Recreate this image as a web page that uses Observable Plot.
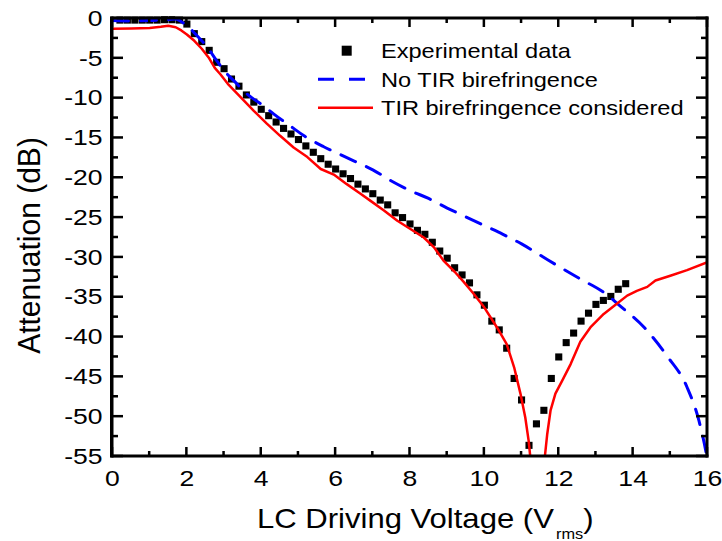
<!DOCTYPE html>
<html>
<head>
<meta charset="utf-8">
<script src="https://cdn.jsdelivr.net/npm/d3@7"></script>
<script src="https://cdn.jsdelivr.net/npm/@observablehq/plot@0.6"></script>
<style>
  html, body { margin: 0; padding: 0; background: #ffffff; }
  #chart svg { display: block; }
</style>
</head>
<body>
<div id="chart"></div>
<script>
// ---- Data ----
const expVoltage = [0.2,0.4,0.6,0.8,1.0,1.2,1.4,1.6,1.8,2.0,2.2,2.4,2.6,2.8,3.0,3.2,3.4,3.6,3.8,4.0,
  4.2,4.4,4.6,4.8,5.0,5.2,5.4,5.6,5.8,6.0,6.2,6.4,6.6,6.8,7.0,7.2,7.4,7.6,7.8,8.0,
  8.2,8.4,8.6,8.8,9.0,9.2,9.4,9.6,9.8,10.0,10.2,10.4,10.6,10.8,11.0,11.2,11.4,11.6,11.8,12.0,
  12.2,12.4,12.6,12.8,13.0,13.2,13.4,13.6,13.8];
const expAtten = [-0.2,-0.2,-0.2,-0.2,-0.2,-0.2,-0.15,-0.15,-0.2,-0.7,-1.9,-2.9,-4.0,-5.5,-6.3,-7.6,-8.5,-9.6,-10.5,-11.4,
  -12.2,-13.0,-13.8,-14.5,-15.2,-16.0,-16.8,-17.6,-18.3,-18.9,-19.5,-20.1,-20.8,-21.4,-22.0,-22.8,-23.4,-24.4,-25.0,-25.8,
  -26.6,-27.1,-28.1,-29.2,-30.1,-31.3,-32.2,-33.2,-34.7,-36.0,-38.0,-39.1,-41.4,-45.2,-47.9,-53.6,-50.9,-49.2,-45.2,-42.5,
  -40.7,-39.5,-38.0,-37.0,-35.9,-35.4,-34.9,-34.0,-33.3];

const noTirVoltage = [0,0.5,1.0,1.5,1.7,1.85,2.05,2.3,2.55,2.8,3.05,3.26,3.62,4.07,4.34,4.87,5.14,5.68,6.04,6.5,
  7.0,7.5,8.0,8.5,9.0,9.5,10.0,10.5,11.0,11.7,12.5,13.3,13.6,14.3,14.9,15.45,15.77,15.97,16.0];
const noTirAtten = [-0.25,-0.3,-0.25,-0.15,-0.05,-0.4,-1.1,-2.3,-3.6,-5.3,-6.8,-7.8,-9.5,-11.0,-12.0,-13.8,-14.7,-16.1,-16.9,-17.9,
  -19.0,-20.4,-21.6,-22.6,-23.8,-24.9,-26.0,-27.1,-28.3,-30.3,-32.5,-34.7,-35.9,-38.8,-42.3,-46.3,-50.5,-54.7,-55.5];

const tirVoltage = [0,0.5,1.0,1.3,1.5,1.7,1.85,2.0,2.2,2.4,2.6,2.75,2.9,3.1,3.45,3.8,4.15,4.5,4.87,5.24,
  5.6,5.95,6.3,6.67,6.94,7.3,7.66,8.0,8.37,8.64,8.9,9.2,9.45,9.7,10.0,10.34,10.6,10.8,10.97,11.1,
  11.19,11.24,11.43,11.62,11.69,11.78,11.91,12.09,12.32,12.58,12.85,13.21,13.57,13.84,14.1,14.38,14.6,15.0,15.45,16.0];
const tirAtten = [-1.3,-1.25,-1.2,-1.05,-0.92,-1.1,-1.5,-2.0,-2.8,-3.8,-5.0,-6.2,-7.0,-8.2,-9.9,-11.6,-13.2,-14.7,-16.2,-17.4,
  -18.9,-19.6,-20.8,-22.0,-22.9,-24.1,-25.4,-26.4,-27.5,-28.7,-30.4,-31.8,-33.1,-34.5,-36.3,-38.8,-40.9,-43.8,-47.1,-50.1,
  -53.0,-55.3,NaN,-55.3,-52.2,-49.2,-47.1,-45.5,-43.4,-40.6,-38.8,-37.1,-35.8,-34.8,-34.2,-33.7,-32.9,-32.3,-31.6,-30.6];

const xTicks = [0,2,4,6,8,10,12,14,16];
const xMinorTicks = [1,3,5,7,9,11,13,15];
const yTicks = [0,-5,-10,-15,-20,-25,-30,-35,-40,-45,-50,-55];
const yMinorTicks = [-2.5,-7.5,-12.5,-17.5,-22.5,-27.5,-32.5,-37.5,-42.5,-47.5,-52.5];

const legendLabels = ["Experimental data", "No TIR birefringence", "TIR birefringence considered"];
const xTitleParts = ["LC Driving Voltage (V", "rms", ")"];
const yTitle = "Attenuation (dB)";

// ---- Tables built from arrays ----
const expData = expVoltage.map((v, i) => ({v, a: expAtten[i]}));
const noTirData = noTirVoltage.map((v, i) => ({v, a: noTirAtten[i]}));
const tirData = tirVoltage.map((v, i) => ({v, a: tirAtten[i]}));

const FONT = "'Liberation Sans', Arial, Helvetica, sans-serif";
const fmt = d => String(d);

const chart = Plot.plot({
  width: 722, height: 541,
  marginLeft: 112, marginRight: 15, marginTop: 18, marginBottom: 85,
  x: {domain: [xTicks[0], xTicks[xTicks.length - 1]]},
  y: {domain: [yTicks[yTicks.length - 1], yTicks[0]]},
  style: {fontFamily: FONT, background: "#ffffff", color: "black"},
  marks: [
    Plot.dot(expData, {x: "v", y: "a", symbol: "square", r: 4, fill: "black"}),
    Plot.line(noTirData, {x: "v", y: "a", stroke: "#0000ff", strokeWidth: 3, strokeDasharray: "16,12", curve: "monotone-x", clip: true}),
    Plot.line(tirData, {x: "v", y: "a", stroke: "#ff0000", strokeWidth: 2.5, clip: true}),
    Plot.axisX(xTicks, {anchor: "bottom", tickSize: 0, tickPadding: 14, fontSize: 22.5, tickFormat: fmt, label: null, fill: "black"}),
    Plot.axisY(yTicks, {anchor: "left", tickSize: 0, tickPadding: 10, fontSize: 22.5, tickFormat: fmt, label: null, fill: "black"})
  ]
});

document.getElementById("chart").appendChild(chart);
const svg = d3.select(chart);

function stretchX(node, k) {
  const x = +node.getAttribute("x") || 0, y = +node.getAttribute("y") || 0;
  const t = node.getAttribute("transform") || "";
  node.setAttribute("transform", `${t} translate(${x},${y}) scale(${k},1) translate(${-x},${-y})`);
}
svg.selectAll('g[aria-label$="tick label"] text').each(function() { stretchX(this, 1.18); });

// ---- Frame and inward ticks as filled bars, positioned with Plot's own scales ----
const xs = chart.scale("x"), ys = chart.scale("y");
const xL = Math.min(...xs.range), xR = Math.max(...xs.range);
const yT = Math.min(...ys.range), yB = Math.max(...ys.range);
const fg = svg.append("g").attr("aria-label", "axes box").attr("fill", "#000000");
function bar(x, y, w, h) {
  fg.append("rect").attr("x", x).attr("y", y).attr("width", w).attr("height", h).attr("fill", "#000000");
}
const TW = 2.5;   // tick thickness
function xTick(v, len) {
  const px = xs.apply(v);
  bar(px - TW / 2, yB - len, TW, len);
  bar(px - TW / 2, yT, TW, len);
}
function yTick(v, len) {
  const py = ys.apply(v);
  bar(xL, py - TW / 2, len, TW);
  bar(xR - len, py - TW / 2, len, TW);
}
xTicks.forEach(v => xTick(v, 9));
xMinorTicks.forEach(v => xTick(v, 5));
yTicks.forEach(v => yTick(v, 11));
yMinorTicks.forEach(v => yTick(v, 6));
const FT = 3;     // frame thickness
bar(xL - FT / 2, yT - FT / 2, xR - xL + FT, FT);          // top
bar(xL - FT / 2, yB - FT / 2, xR - xL + FT, FT);          // bottom
bar(xL - FT / 2 - 0.5, yT - FT / 2, FT + 0.5, yB - yT + FT); // left
bar(xR - FT / 2, yT - FT / 2, FT, yB - yT + FT);          // right

// ---- Axis titles ----
const xt = svg.append("text")
  .attr("transform", "translate(257,528) scale(1.09,1)")
  .attr("text-anchor", "start")
  .attr("font-family", FONT).attr("font-size", 28.5).attr("fill", "black");
xt.append("tspan").text(xTitleParts[0]);
xt.append("tspan").attr("font-size", 15).attr("dx", 2).attr("dy", 11).text(xTitleParts[1]);
xt.append("tspan").attr("font-size", 28.5).attr("dy", -11).text(xTitleParts[2]);

svg.append("text")
  .attr("transform", "translate(40,245.5) scale(1.05,1) rotate(-90)")
  .attr("text-anchor", "middle")
  .attr("font-family", FONT).attr("font-size", 30).attr("fill", "black")
  .text(yTitle);

// ---- Legend ----
const lg = svg.append("g").attr("aria-label", "legend").attr("text-anchor", "start");
lg.append("rect").attr("x", 341.7).attr("y", 45.7).attr("width", 10).attr("height", 10).attr("fill", "black");
lg.append("line").attr("x1", 318).attr("x2", 367).attr("y1", 79.3).attr("y2", 79.3)
  .attr("stroke", "#0000ff").attr("stroke-width", 3).attr("stroke-dasharray", "16,15");
lg.append("line").attr("x1", 318).attr("x2", 373).attr("y1", 107.7).attr("y2", 107.7)
  .attr("stroke", "#ff0000").attr("stroke-width", 2.5);
const baselines = [57.5, 86.5, 115];
legendLabels.forEach((s, i) => {
  lg.append("text")
    .attr("transform", `translate(381,${baselines[i]}) scale(1.15,1)`)
    .attr("text-anchor", "start")
    .attr("font-family", FONT).attr("font-size", 20.5).attr("fill", "black")
    .text(s);
});
</script>
</body>
</html>
